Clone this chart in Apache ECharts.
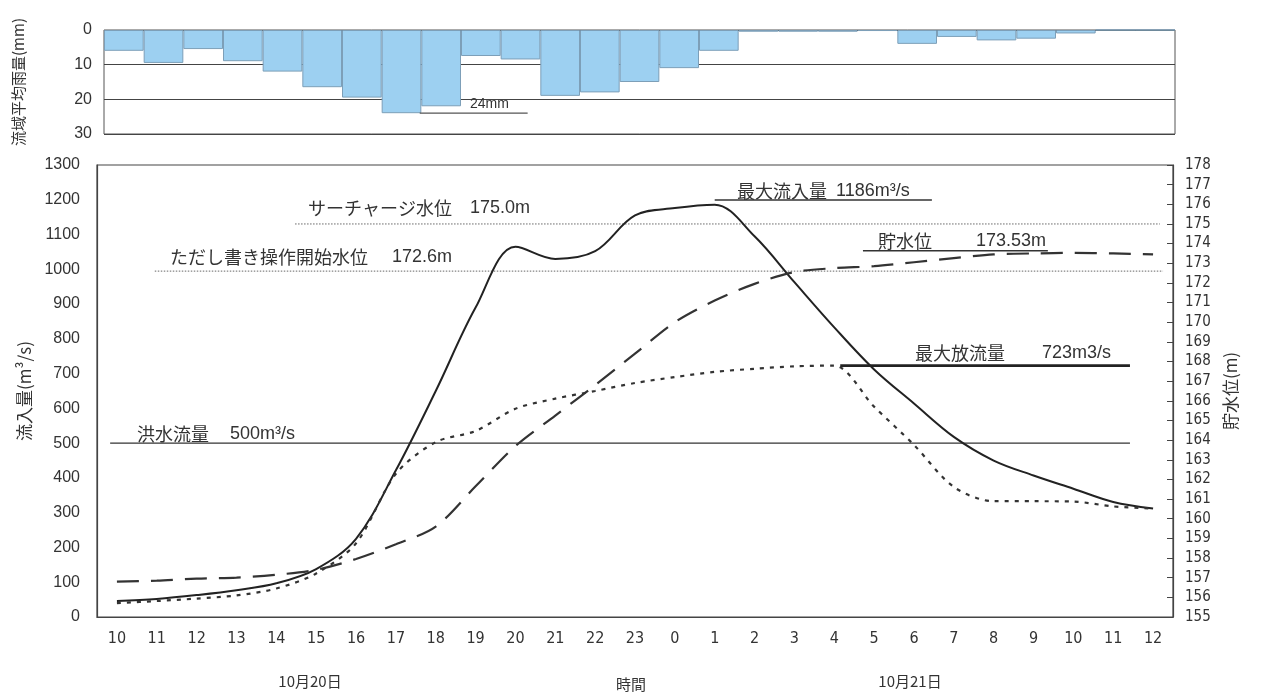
<!DOCTYPE html>
<html><head><meta charset="utf-8">
<script src="https://cdn.jsdelivr.net/npm/echarts@6/dist/echarts.min.js"></script>
<style>html,body{margin:0;padding:0;background:#fff}#c{width:1261px;height:693px}</style>
</head><body><div id="c"></div>
<script>
// ---- data ----
const hours = ['10','11','12','13','14','15','16','17','18','19','20','21','22','23','0','1','2','3','4','5','6','7','8','9','10','11','12'];
const rainfall = [6,9.5,5.5,9,12,16.5,19.5,24,22,7.5,8.5,19,18,15,11,6,0.5,0.5,0.5,0.3,4,2,3,2.5,1,0,0];
const inflow = [46,52,63,77,97,138,225,422,650,890,1065,1030,1052,1155,1176,1186,1095,963,833,712,614,518,450,407,369,331,312];
const outflow = [40,46,53,62,82,125,212,412,503,535,599,628,650,673,690,705,714,721,723,605,495,374,333,333,332,318,312];
const waterLevel = [156.8,156.85,156.95,157.0,157.15,157.4,157.95,158.7,159.6,161.65,163.7,165.25,166.8,168.4,170.0,171.1,171.95,172.55,172.75,172.85,173.05,173.26,173.45,173.5,173.53,173.5,173.45];
const SURCHARGE = 175.0, PROVISO = 172.6, FLOOD = 500, MAX_IN = 1186, MAX_LEVEL = 173.53, MAX_OUT = 723, MAX_RAIN = 24;
const dateLabels = ['10月20日', '時間', '10月21日'];

const NARROW = "'Liberation Sans Narrow','DejaVu Sans Condensed','Liberation Sans',sans-serif";
const NUM = "'Liberation Sans','Noto Sans CJK JP',sans-serif";
const JP = "'Noto Sans CJK JP',sans-serif";
const INK = '#333';

const chart = echarts.init(document.getElementById('c'), null, {renderer: 'canvas'});

function hline(xi, yi, x0, x1, y, ls) {
  return {type: 'line', xAxisIndex: xi, yAxisIndex: yi, data: [[x0, y], [x1, y]],
    symbol: 'none', silent: true, lineStyle: ls, z: 3};
}
const dotted = {color: '#666', width: 1, type: [1.5, 1.5]};
const plain = v => String(v);

const option = {
  animation: false,
  backgroundColor: '#fff',
  grid: [
    {left: 104, right: 86, top: 30, height: 104, show: true, borderColor: '#555', borderWidth: 1},
    {left: 97, right: 88, top: 165, bottom: 76, show: true, borderColor: '#444', borderWidth: 1.2}
  ],
  xAxis: [
    {type: 'category', gridIndex: 0, data: hours, boundaryGap: true, show: false},
    {type: 'category', gridIndex: 1, data: hours, boundaryGap: true,
      axisLine: {onZero: false, lineStyle: {color: '#444', width: 1.2}},
      axisTick: {inside: true, length: 6, lineStyle: {color: '#444'}},
      axisLabel: {margin: 14, fontSize: 16, color: INK, fontFamily: NARROW, interval: 0},
      splitLine: {show: false}},
    {type: 'value', gridIndex: 1, min: -0.5, max: 26.5, show: false},
    {type: 'value', gridIndex: 0, min: -0.5, max: 26.5, show: false}
  ],
  yAxis: [
    {type: 'value', gridIndex: 0, inverse: true, min: 0, max: 30, interval: 10,
      name: '流域平均雨量(mm)', nameLocation: 'middle', nameGap: 78, nameRotate: 90,
      nameTextStyle: {fontSize: 15, color: INK, fontFamily: JP},
      axisLine: {show: false, onZero: false}, axisTick: {show: false},
      axisLabel: {margin: 12, fontSize: 16, color: INK, fontFamily: NUM, formatter: plain},
      splitLine: {show: true, lineStyle: {color: '#444', width: 1.2}}},
    {type: 'value', gridIndex: 1, min: 0, max: 1300, interval: 100,
      name: '流入量(m³/s)', nameLocation: 'middle', nameGap: 61, nameRotate: 90,
      nameTextStyle: {fontSize: 17, color: INK, fontFamily: JP},
      axisLine: {show: true, onZero: false, lineStyle: {color: '#444', width: 1.2}}, axisTick: {show: false},
      axisLabel: {margin: 17, fontSize: 16, color: INK, fontFamily: NUM, formatter: plain},
      splitLine: {show: false}},
    {type: 'value', gridIndex: 1, position: 'right', min: 155, max: 178, interval: 1,
      name: '貯水位(m)', nameLocation: 'middle', nameGap: 45, nameRotate: 90,
      nameTextStyle: {fontSize: 17, color: INK, fontFamily: JP},
      axisLine: {show: true, onZero: false, lineStyle: {color: '#444', width: 1.2}},
      axisTick: {show: true, inside: true, length: 6, lineStyle: {color: '#444'}},
      axisLabel: {margin: 12, fontSize: 15, color: INK, fontFamily: NARROW, formatter: plain},
      splitLine: {show: false}}
  ],
  series: [
    {name: '流域平均雨量', type: 'bar', xAxisIndex: 0, yAxisIndex: 0, data: rainfall,
      barCategoryGap: '0%', itemStyle: {color: '#9dd0f1', borderColor: '#7d9fb8', borderWidth: 1}},
    {name: '流入量', type: 'line', xAxisIndex: 1, yAxisIndex: 1, data: inflow, smooth: 0.35,
      symbol: 'none', lineStyle: {color: '#222', width: 2}, z: 5},
    {name: '放流量', type: 'line', xAxisIndex: 1, yAxisIndex: 1, data: outflow, smooth: 0.3,
      symbol: 'none', lineStyle: {color: '#333', width: 2.2, type: [4, 6]}, z: 5},
    {name: '貯水位', type: 'line', xAxisIndex: 1, yAxisIndex: 2, data: waterLevel, smooth: 0.3,
      symbol: 'none', lineStyle: {color: '#333', width: 2.2, type: [22, 12]}, z: 5},
    hline(2, 2, 4.47, 26.17, SURCHARGE, dotted),
    hline(2, 2, 0.95, 26.25, PROVISO, dotted),
    hline(2, 1, -0.17, 25.42, FLOOD, {color: '#333', width: 1.2}),
    hline(2, 1, 15.0, 20.45, 1199, {color: '#333', width: 1.5}),
    hline(2, 2, 18.72, 23.36, 173.64, {color: '#333', width: 1.5}),
    hline(2, 1, 18.15, 25.42, MAX_OUT, {color: '#222', width: 2.8}),
    hline(3, 0, 7.46, 10.18, MAX_RAIN, {color: '#555', width: 1.2})
  ],
  graphic: []
};

function txt(text, x, y, size, font, align) {
  return {type: 'text', x: x, y: y, silent: true, z: 10,
    style: {text: text, fontSize: size, fontFamily: font, fill: INK,
      align: align || 'left', verticalAlign: 'middle', textAlign: align || 'left', textVerticalAlign: 'middle'}};
}
option.graphic = [
  txt('サーチャージ水位', 308, 208, 18, JP), txt(SURCHARGE.toFixed(1) + 'm', 470, 208, 18, NUM),
  txt('ただし書き操作開始水位', 170, 257, 18, JP), txt(PROVISO.toFixed(1) + 'm', 392, 257, 18, NUM),
  txt('洪水流量', 137, 434, 18, JP), txt(FLOOD + 'm³/s', 230, 434, 18, NUM),
  txt('最大流入量', 737, 191, 18, JP), txt(MAX_IN + 'm³/s', 836, 191, 18, NUM),
  txt('貯水位', 878, 241, 18, JP), txt(MAX_LEVEL + 'm', 976, 241, 18, NUM),
  txt('最大放流量', 915, 353, 18, JP), txt(MAX_OUT + 'm3/s', 1042, 353, 18, NUM),
  txt(MAX_RAIN + 'mm', 470, 104, 14, NUM),
  txt(dateLabels[0], 310, 681, 15, JP, 'center'),
  txt(dateLabels[1], 631, 684, 15, JP, 'center'),
  txt(dateLabels[2], 910, 681, 15, JP, 'center')
];
chart.setOption(option);
</script></body></html>
